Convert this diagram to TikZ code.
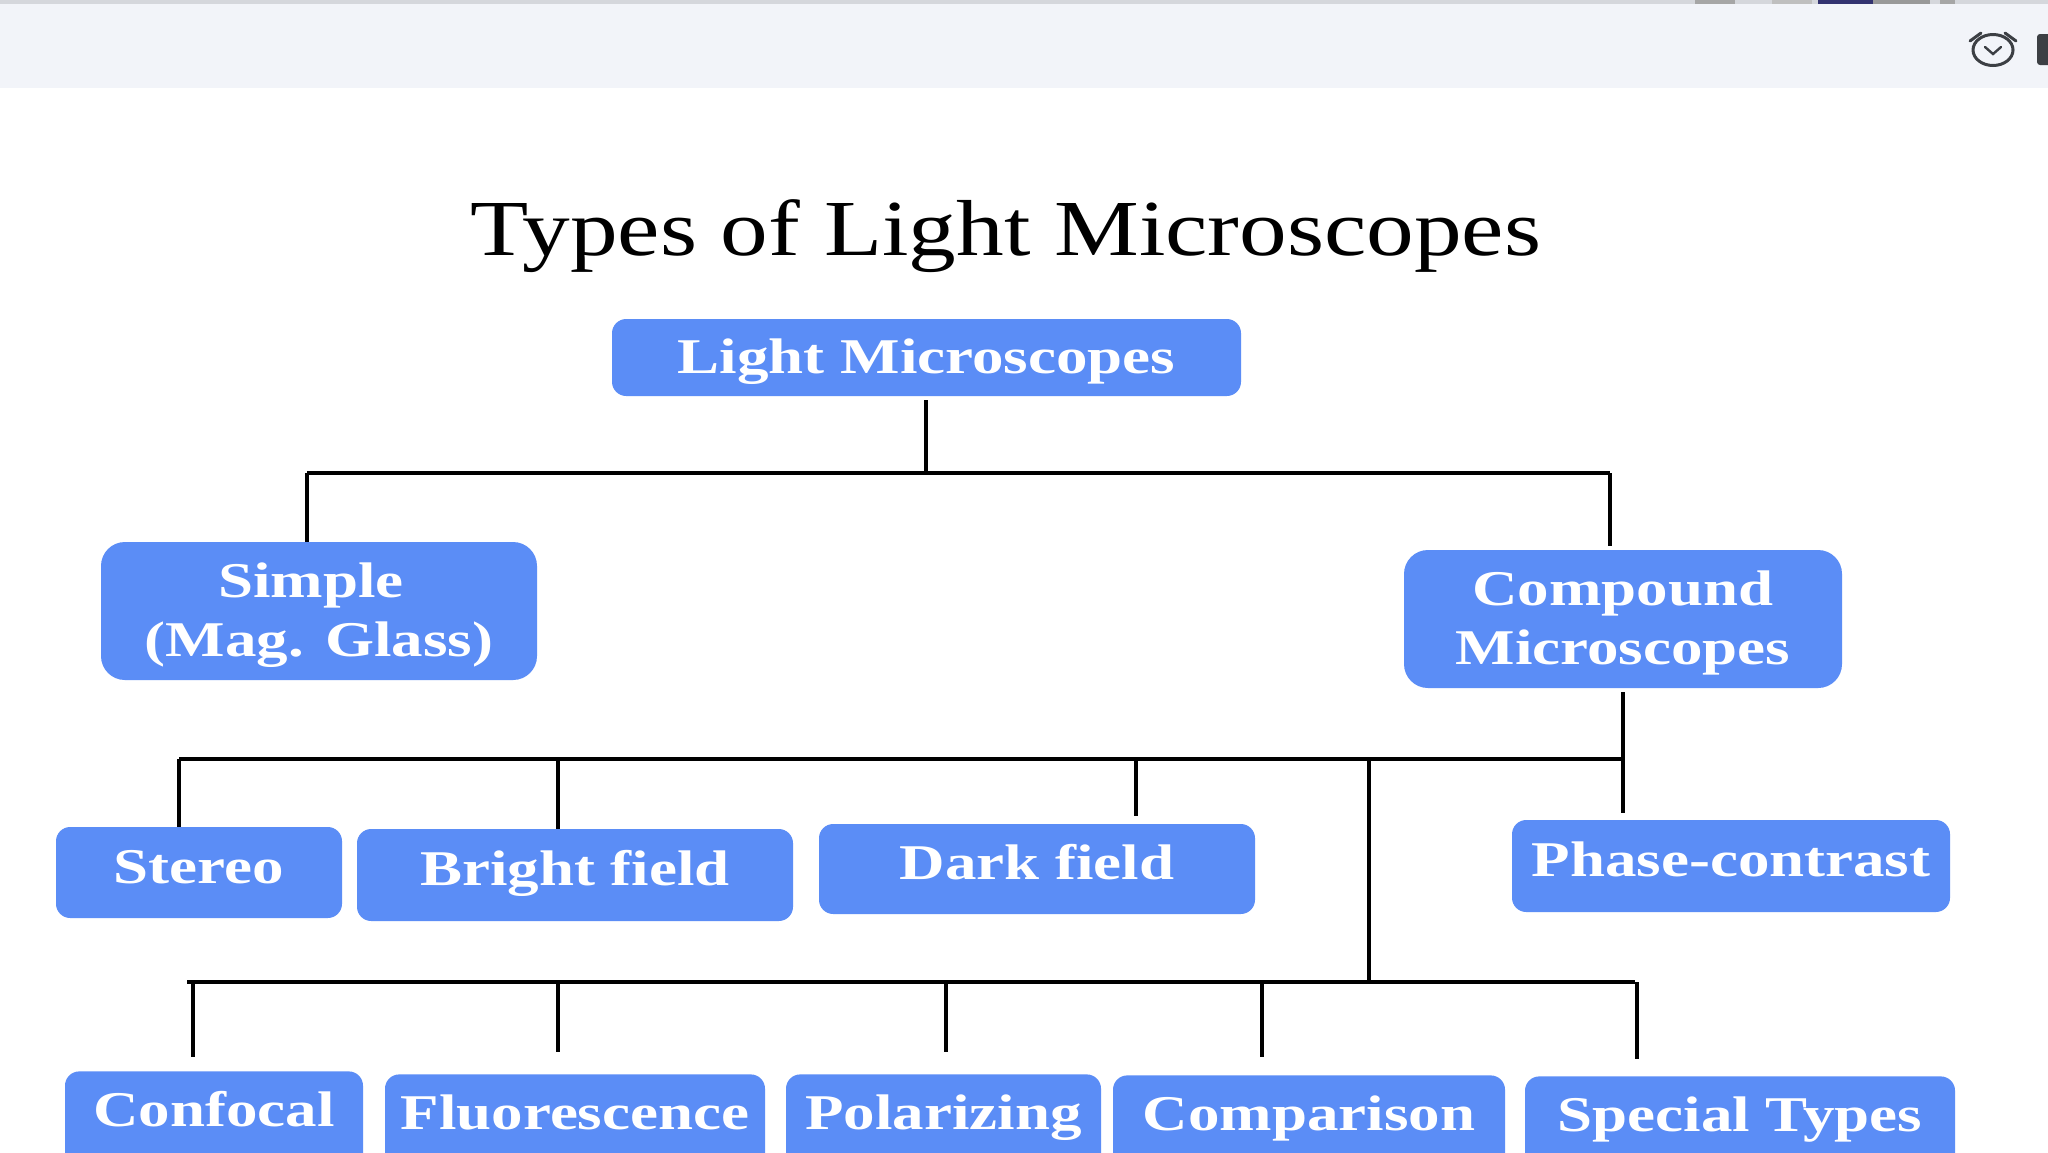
\documentclass[tikz,border=0pt]{standalone}
\usepackage{fontspec}
\usepackage{xcolor}
\usepackage{tikz}
\usetikzlibrary{calc}
\setmainfont{Liberation Serif}
\newfontfamily\wideserif[FakeStretch=1.2]{Liberation Serif}
\newfontfamily\widebold[FakeStretch=1.26,BoldFont={Liberation Serif Bold}]{Liberation Serif Bold}
\definecolor{BoxBlue}{HTML}{5B8DF6}
\definecolor{BarGray}{HTML}{F2F4F9}
\definecolor{StripGray}{HTML}{D5D7DC}
\definecolor{IconGray}{HTML}{3C3F44}
\tikzset{
  boxnode/.style={fill=BoxBlue,rounded corners=2.5mm,text=white,inner sep=0pt,align=center,
    font=\widebold\fontsize{25}{29.5}\selectfont},
  onebox/.style={boxnode,text height=16.5pt,text depth=5.7pt},
  twobox/.style={boxnode,rounded corners=4.2mm,text height=51pt},
  lowbox/.style={boxnode,anchor=north,text height=27.5pt,text depth=32pt,minimum height=59.5pt},
  conn/.style={black,line width=2.2pt},
}
\begin{document}
\begin{tikzpicture}[x=0.5pt,y=-0.5pt]
\clip (0,0) rectangle (2048,1152);
\fill[white] (0,0) rectangle (2048,1152);
\fill[BarGray] (0,0) rectangle (2048,88);
\fill[StripGray] (0,0) rectangle (2048,4);
\fill[gray!70] (1695,0) rectangle (1735,4);
\fill[gray!50] (1772,0) rectangle (1812,4);
\fill[black!60!blue!60!gray] (1818,0) rectangle (1873,4);
\fill[gray!80] (1873,0) rectangle (1930,4);
\fill[gray!70] (1940,0) rectangle (1955,4);
\draw[IconGray,line width=1.5pt] (1993,50) ellipse [x radius=20,y radius=15.5];
\draw[IconGray,line width=1.5pt,line cap=round] (1970,41) -- (1981,33) (2005,33) -- (2016,41);
\draw[IconGray,line width=1.2pt,line cap=round] (1985,47) -- (1993,54) -- (2001,47);
\fill[IconGray,rounded corners=1.5pt] (2037,34) rectangle (2060,65);

\node[font=\wideserif\fontsize{39.7}{44}\selectfont] (title) at (1006,236) {Types of Light Microscopes};

\node[onebox,text height=21pt,text depth=5pt,minimum width=314.5pt,minimum height=38.5pt] (light) at (926.5,357.5) {Light Microscopes};
\node[twobox,minimum width=218pt,minimum height=69pt] (simple) at (319,611) {Simple\hspace*{8pt}\\(Mag. Glass)};
\node[twobox,minimum width=219pt,minimum height=69pt] (compound) at (1623,619) {Compound\\Microscopes};
\node[onebox,minimum width=143pt,minimum height=45.5pt] (stereo) at (199,872.5) {Stereo};
\node[onebox,minimum width=218pt,minimum height=46pt] (bright) at (575,875) {Bright field};
\node[onebox,minimum width=218pt,minimum height=45pt] (dark) at (1037,869) {Dark field};
\node[onebox,minimum width=219pt,minimum height=46pt] (phase) at (1731,866) {Phase-contrast};
\node[lowbox,minimum width=149pt] (confocal) at (214,1071) {Confocal};
\node[lowbox,minimum width=190pt] (fluor) at (575,1074) {Fluorescence};
\node[lowbox,minimum width=157.5pt] (polar) at (943.5,1074) {Polarizing};
\node[lowbox,minimum width=196pt] (compar) at (1309,1075) {Comparison};
\node[lowbox,minimum width=215pt] (special) at (1740,1076) {Special Types};

\coordinate (busa) at (926,473);
\coordinate (busaleft) at (307,473);
\coordinate (busaright) at (1610,473);
\coordinate (busb) at (1623,759);
\coordinate (busbleft) at (179,759);
\coordinate (busc) at (1369,982);
\coordinate (buscleft) at (187,982);
\coordinate (buscright) at (1635,982);

\draw[conn] (light.south -| busa) ++(0,4) -- (busa);
\draw[conn] (busaleft) -- (busaright);
\draw[conn] (busaleft) -- (busaleft |- simple.north);
\draw[conn] (busaright) -- ($(busaright |- compound.north)+(0,-4)$);
\draw[conn] (compound.south) ++(0,4) -- (1623,813);
\draw[conn] (busbleft) -- (busb);
\draw[conn] (busbleft) -- (busbleft |- stereo.north);
\draw[conn] (558,759) -- (558,759 |- bright.north);
\draw[conn] (1136,759) -- ($(1136,759 |- dark.north)+(0,-8)$);
\draw[conn] (busc |- busb) -- (busc);
\draw[conn] (buscleft) -- (buscright);
\draw[conn] (193,982) -- ($(193,982 |- confocal.north)+(0,-14)$);
\draw[conn] (558,982) -- ($(558,982 |- fluor.north)+(0,-22)$);
\draw[conn] (946,982) -- ($(946,982 |- polar.north)+(0,-22)$);
\draw[conn] (1262,982) -- ($(1262,982 |- compar.north)+(0,-18)$);
\draw[conn] (1637,982) -- ($(1637,982 |- special.north)+(0,-17)$);
\end{tikzpicture}
\end{document}
